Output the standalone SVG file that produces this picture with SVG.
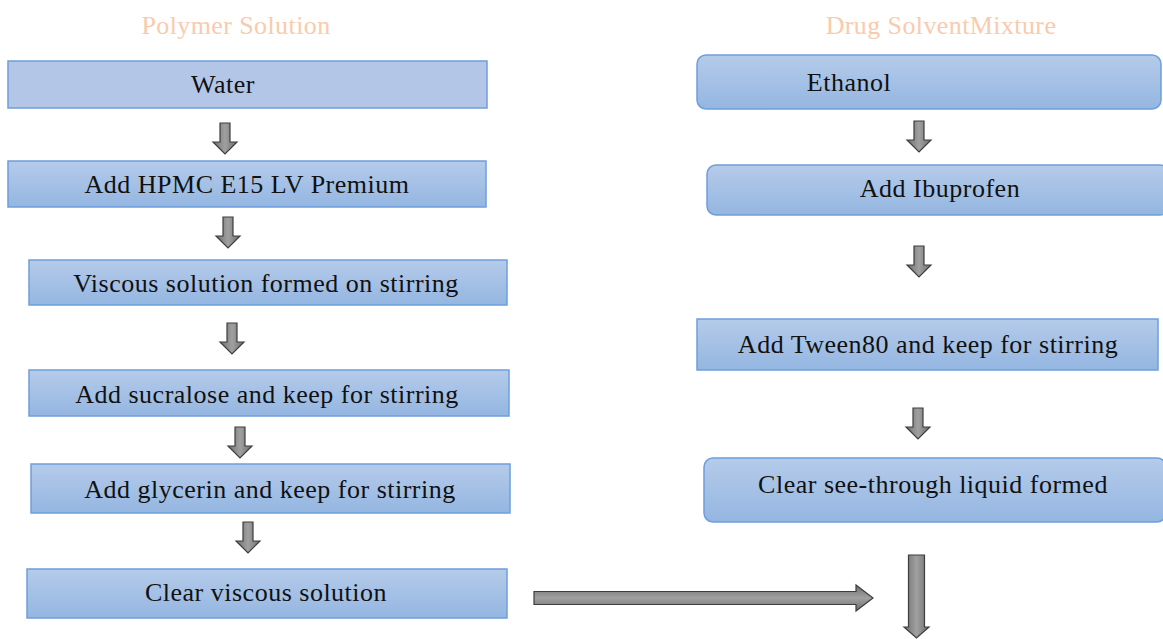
<svg xmlns="http://www.w3.org/2000/svg" width="1163" height="639" viewBox="0 0 1163 639">
<defs>
<linearGradient id="boxg" x1="0" y1="0" x2="0" y2="1">
<stop offset="0" stop-color="#b5cbea"/>
<stop offset="1" stop-color="#94b6e1"/>
</linearGradient>
<linearGradient id="arrg" x1="0" y1="0" x2="1" y2="0">
<stop offset="0" stop-color="#6e6e6e"/>
<stop offset="0.5" stop-color="#a0a0a0"/>
<stop offset="1" stop-color="#6e6e6e"/>
</linearGradient>
<linearGradient id="arrh" x1="0" y1="0" x2="0" y2="1">
<stop offset="0" stop-color="#6e6e6e"/>
<stop offset="0.5" stop-color="#a0a0a0"/>
<stop offset="1" stop-color="#6e6e6e"/>
</linearGradient>
<path id="darr" d="M-5,0 H5 V19 H12 L0,31 L-12,19 H-5 Z"/>
</defs>
<style>
.box{fill:url(#boxg);stroke:#6d9fdc;stroke-width:1.5}
.flat{fill:#b3c6e7;stroke:#6d9fdc;stroke-width:1.5}
text{font-family:'Liberation Serif','DejaVu Serif',serif}
.t{font-size:26px;fill:#111;text-anchor:middle;letter-spacing:0.5px}
.title{font-size:26px;fill:#f9cbad;text-anchor:middle;letter-spacing:0.4px}
.arr{fill:url(#arrg);stroke:#3d3d3d;stroke-width:1.2}
.harr{fill:url(#arrh);stroke:#3d3d3d;stroke-width:1.2}
</style>
<text class="title" x="236" y="34" font-family="Liberation Serif, serif">Polymer Solution</text>
<text class="title" x="941" y="34" font-family="Liberation Serif, serif">Drug SolventMixture</text>

<g id="water"><rect class="flat" x="8" y="61" width="479" height="47"/><text class="t" x="223" y="93" font-family="Liberation Serif, serif">Water</text></g>
<g id="hpmc"><rect class="box" x="8" y="161" width="478" height="46"/><text class="t" x="247" y="193" font-family="Liberation Serif, serif">Add HPMC E15 LV Premium</text></g>
<g id="viscous"><rect class="box" x="29" y="260" width="478" height="45"/><text class="t" x="266" y="292" font-family="Liberation Serif, serif">Viscous solution formed on stirring</text></g>
<g id="sucralose"><rect class="box" x="29" y="370" width="480" height="46"/><text class="t" x="267" y="403" font-family="Liberation Serif, serif">Add sucralose and keep for stirring</text></g>
<g id="glycerin"><rect class="box" x="31" y="464" width="479" height="49"/><text class="t" x="270" y="498" font-family="Liberation Serif, serif">Add glycerin and keep for stirring</text></g>
<g id="clearviscous"><rect class="box" x="27" y="569" width="480" height="49"/><text class="t" x="266" y="601" font-family="Liberation Serif, serif">Clear viscous solution</text></g>

<g id="ethanol"><rect class="box" x="697" y="55" width="464" height="54" rx="9"/><text class="t" x="849" y="91" font-family="Liberation Serif, serif">Ethanol</text></g>
<g id="ibuprofen"><rect class="box" x="707" y="165" width="462" height="50" rx="9"/><text class="t" x="940" y="197" font-family="Liberation Serif, serif">Add Ibuprofen</text></g>
<g id="tween"><rect class="box" x="697" y="319" width="461" height="51"/><text class="t" x="928" y="353" font-family="Liberation Serif, serif">Add Tween80 and keep for stirring</text></g>
<g id="clearliquid"><rect class="box" x="704" y="458" width="462" height="64" rx="9"/><text class="t" x="933" y="493" font-family="Liberation Serif, serif">Clear see-through liquid formed</text></g>

<g id="connectors">
<use href="#darr" class="arr" transform="translate(225,123)"/>
<use href="#darr" class="arr" transform="translate(228,217)"/>
<use href="#darr" class="arr" transform="translate(232,323)"/>
<use href="#darr" class="arr" transform="translate(240,427)"/>
<use href="#darr" class="arr" transform="translate(248,522)"/>
<use href="#darr" class="arr" transform="translate(919,121)"/>
<use href="#darr" class="arr" transform="translate(919,246)"/>
<use href="#darr" class="arr" transform="translate(918,408)"/>
<path class="harr" d="M534,591.5 H856 V585 L873,598 L856,611 V604.5 H534 Z"/>
<path class="arr" d="M908.5,555 H924.5 V627 H929 L916.5,638 L904,627 H908.5 Z"/>
</g>
</svg>
